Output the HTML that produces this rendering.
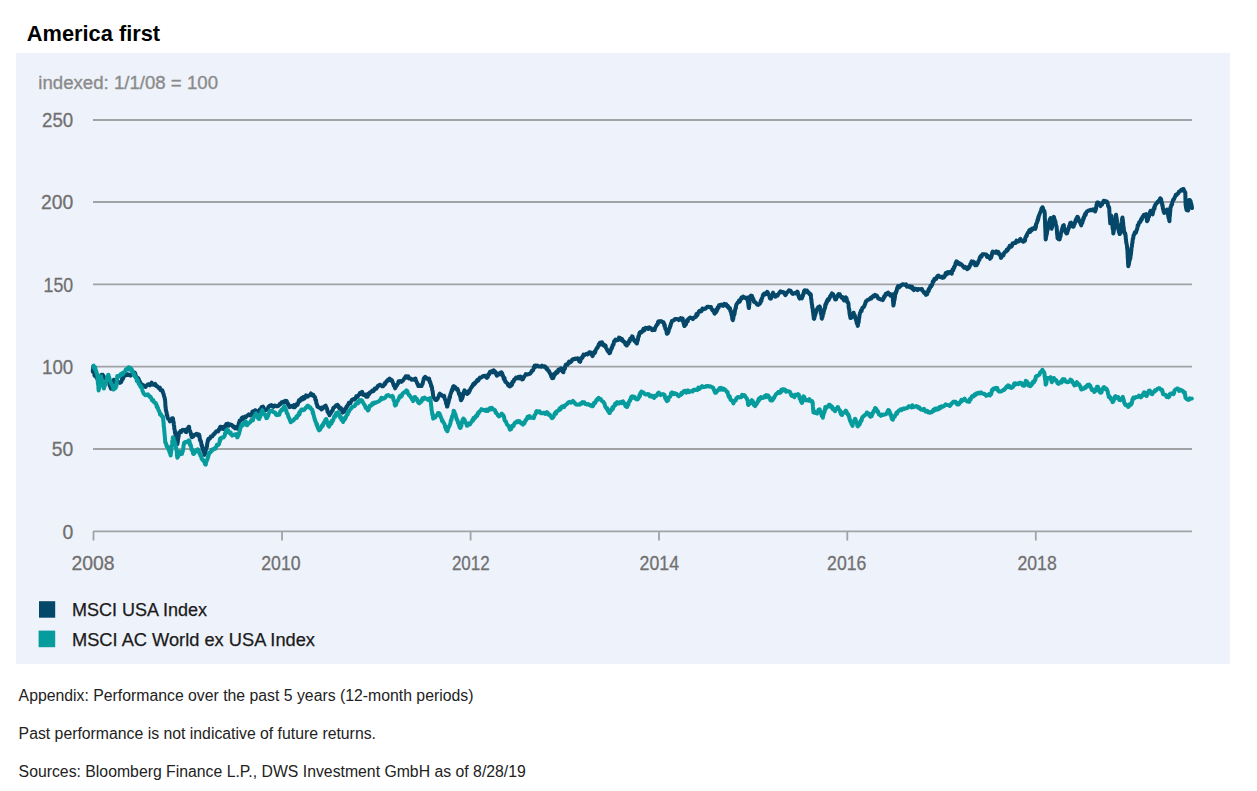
<!DOCTYPE html>
<html><head><meta charset="utf-8"><title>America first</title>
<style>
html,body{margin:0;padding:0;background:#fff;width:1257px;height:791px;overflow:hidden;}
body{position:relative;font-family:"Liberation Sans",sans-serif;}
.panel{position:absolute;left:16px;top:53px;width:1214px;height:611px;background:#EEF2FA;}
svg{position:absolute;left:0;top:0;}
.ax{font-family:"Liberation Sans",sans-serif;font-size:20.3px;fill:#707070;stroke:#707070;stroke-width:0.3px;}
.leg{font-family:"Liberation Sans",sans-serif;font-size:18px;fill:#1b1b1b;stroke:#1b1b1b;stroke-width:0.25px;}
.idx{font-family:"Liberation Sans",sans-serif;font-size:19.1px;fill:#8b8b8b;stroke:#8b8b8b;stroke-width:0.35px;}
.ttl{font-family:"Liberation Sans",sans-serif;font-size:22.6px;font-weight:bold;fill:#000;}
.t{position:absolute;white-space:nowrap;}
</style></head><body>

<div class="panel"></div>
<svg width="1257" height="791" viewBox="0 0 1257 791">
<line x1="93" y1="120.0" x2="1192" y2="120.0" stroke="#A0A2A6" stroke-width="1.8"/>
<line x1="93" y1="202.0" x2="1192" y2="202.0" stroke="#A0A2A6" stroke-width="1.8"/>
<line x1="93" y1="284.4" x2="1192" y2="284.4" stroke="#A0A2A6" stroke-width="1.8"/>
<line x1="93" y1="366.7" x2="1192" y2="366.7" stroke="#A0A2A6" stroke-width="1.8"/>
<line x1="93" y1="449.0" x2="1192" y2="449.0" stroke="#A0A2A6" stroke-width="1.8"/>
<line x1="93" y1="531.4" x2="1192" y2="531.4" stroke="#A0A2A6" stroke-width="1.8"/>
<line x1="93.5" y1="531.4" x2="93.5" y2="540.5" stroke="#A0A2A6" stroke-width="1.8"/>
<line x1="282.0" y1="531.4" x2="282.0" y2="540.5" stroke="#A0A2A6" stroke-width="1.8"/>
<line x1="470.6" y1="531.4" x2="470.6" y2="540.5" stroke="#A0A2A6" stroke-width="1.8"/>
<line x1="659.0" y1="531.4" x2="659.0" y2="540.5" stroke="#A0A2A6" stroke-width="1.8"/>
<line x1="847.3" y1="531.4" x2="847.3" y2="540.5" stroke="#A0A2A6" stroke-width="1.8"/>
<line x1="1035.8" y1="531.4" x2="1035.8" y2="540.5" stroke="#A0A2A6" stroke-width="1.8"/>
<text x="73.2" y="127.2" text-anchor="end" class="ax" textLength="31.2" lengthAdjust="spacingAndGlyphs">250</text>
<text x="73.2" y="209.2" text-anchor="end" class="ax" textLength="32.3" lengthAdjust="spacingAndGlyphs">200</text>
<text x="73.2" y="291.6" text-anchor="end" class="ax" textLength="29.6" lengthAdjust="spacingAndGlyphs">150</text>
<text x="73.2" y="373.9" text-anchor="end" class="ax" textLength="31.2" lengthAdjust="spacingAndGlyphs">100</text>
<text x="73.2" y="456.2" text-anchor="end" class="ax" textLength="21.5" lengthAdjust="spacingAndGlyphs">50</text>
<text x="73.2" y="538.6" text-anchor="end" class="ax" textLength="10.8" lengthAdjust="spacingAndGlyphs">0</text>
<text x="71.4" y="569.9" class="ax" textLength="43.2" lengthAdjust="spacingAndGlyphs">2008</text>
<text x="261.2" y="569.9" class="ax" textLength="39.4" lengthAdjust="spacingAndGlyphs">2010</text>
<text x="451.9" y="569.9" class="ax" textLength="37.8" lengthAdjust="spacingAndGlyphs">2012</text>
<text x="639.6" y="569.9" class="ax" textLength="39.4" lengthAdjust="spacingAndGlyphs">2014</text>
<text x="827.1" y="569.9" class="ax" textLength="39.2" lengthAdjust="spacingAndGlyphs">2016</text>
<text x="1017.5" y="569.9" class="ax" textLength="39.2" lengthAdjust="spacingAndGlyphs">2018</text>
<polyline points="92.8,371.6 92.9,369.6 93.0,370.4 93.1,369.2 93.2,366.8 93.3,366.4 93.4,367.3 93.6,368.1 93.7,369.6 93.8,370.9 93.9,370.0 94.1,370.8 94.2,373.8 94.3,373.7 94.5,375.5 94.6,375.7 95.4,375.2 96.2,377.1 97.0,378.0 97.5,379.6 98.0,379.3 98.5,382.2 99.0,382.0 99.3,382.1 99.7,379.0 100.0,378.0 100.3,378.5 100.6,378.6 100.9,376.2 101.3,374.9 101.6,374.7 102.2,375.2 102.8,374.9 103.5,376.1 104.1,377.3 104.7,378.2 105.5,378.6 106.3,378.4 107.2,378.9 108.0,380.0 108.3,380.2 108.6,381.7 108.9,382.2 109.2,382.4 109.6,385.5 109.9,385.7 110.2,386.8 110.5,386.6 110.8,388.3 111.1,388.7 111.4,387.5 111.7,384.7 112.0,384.4 112.3,384.6 112.6,383.7 112.9,383.4 113.2,381.2 113.5,381.4 113.8,379.7 114.9,380.6 115.9,380.1 117.0,381.0 118.0,381.6 119.0,382.6 119.9,382.9 120.9,382.3 121.3,381.5 121.7,380.8 122.2,378.5 122.6,378.2 123.0,378.8 123.4,377.2 124.1,376.3 124.8,375.1 125.6,375.4 126.3,375.2 127.0,374.0 127.9,374.9 128.8,374.5 129.6,375.1 130.5,375.7 131.1,375.0 131.7,375.0 132.3,373.7 132.9,372.6 133.5,372.2 134.1,373.0 134.6,372.5 135.2,373.4 135.8,375.9 136.4,377.4 136.9,377.2 137.5,377.7 138.0,378.2 138.5,378.5 139.0,380.2 139.5,381.0 140.0,382.0 140.6,384.0 141.3,384.2 141.9,384.3 142.5,385.9 143.2,385.0 143.8,386.4 144.7,386.1 145.5,387.0 146.4,385.7 147.2,385.0 148.1,384.2 149.0,384.6 149.8,385.4 150.7,383.9 151.6,382.6 152.5,384.6 153.4,384.7 154.3,384.9 155.2,383.9 155.8,385.3 156.5,386.2 157.1,386.1 157.7,387.0 158.4,387.4 159.0,388.3 159.8,387.6 160.6,390.2 161.3,389.9 162.1,390.2 162.4,390.4 162.8,392.1 163.1,393.0 163.4,393.6 163.7,394.5 164.0,396.0 164.4,397.2 164.7,397.8 164.8,399.0 164.9,399.5 165.0,399.3 165.1,400.8 165.2,401.5 165.3,403.5 165.4,405.1 165.4,405.9 165.5,406.8 165.6,407.8 165.7,407.2 165.8,409.6 165.9,410.1 166.0,409.5 166.1,411.5 166.3,411.3 166.6,412.3 166.8,415.2 167.1,414.9 167.3,415.6 167.6,417.6 168.2,418.9 168.8,419.1 169.3,419.3 169.9,421.4 170.7,419.7 171.4,419.9 172.2,418.2 172.9,418.3 173.0,418.6 173.2,420.6 173.3,420.9 173.4,421.4 173.5,422.7 173.7,422.4 173.8,424.2 173.9,425.2 174.0,425.5 174.2,426.2 174.3,429.1 174.4,429.0 174.6,429.9 174.8,430.0 174.9,431.9 175.1,433.4 175.3,432.2 175.5,433.1 175.6,434.3 175.8,436.7 176.0,436.1 176.2,438.4 176.3,439.2 176.5,439.8 176.7,439.8 176.9,442.7 177.0,443.1 177.2,443.3 177.4,444.1 177.5,442.4 177.7,442.6 177.8,441.0 177.9,440.5 178.1,438.9 178.2,438.7 178.3,436.3 178.5,436.0 178.6,436.8 178.7,435.6 178.9,433.1 179.0,432.7 179.7,433.0 180.5,431.0 181.2,432.0 182.0,430.9 182.7,429.7 183.5,430.1 184.2,430.2 185.0,430.1 185.8,432.0 186.3,432.1 186.8,429.0 187.3,430.2 187.8,429.7 188.3,427.8 188.8,426.7 189.1,426.7 189.3,429.4 189.6,430.6 189.8,430.8 190.1,431.1 190.3,431.7 190.6,432.5 190.8,433.0 191.1,435.1 191.3,435.4 191.6,435.6 191.8,437.3 192.6,435.7 193.3,436.5 194.1,435.0 194.8,434.9 195.6,434.3 196.6,433.8 197.7,435.3 198.7,434.3 198.9,436.2 199.2,434.8 199.4,436.2 199.7,437.4 199.9,440.0 200.2,439.6 200.5,441.2 200.7,441.0 201.0,441.5 201.3,443.6 201.5,444.9 201.8,446.1 202.1,445.4 202.3,447.7 202.6,448.1 202.8,448.4 203.1,450.6 203.4,449.6 203.6,451.7 203.9,451.0 204.2,452.1 204.4,454.9 204.7,454.7 204.9,453.1 205.1,453.6 205.3,452.3 205.5,452.1 205.8,449.9 206.0,449.0 206.2,448.0 206.4,448.6 206.6,447.0 206.8,447.0 207.0,446.0 207.2,443.2 207.4,443.3 207.7,441.3 207.9,440.3 208.1,439.5 208.3,440.6 208.5,438.8 209.3,438.9 210.0,438.4 210.8,436.5 211.6,436.6 212.3,436.4 213.1,435.0 213.8,434.0 214.6,433.9 215.3,432.4 216.1,431.4 216.8,431.2 217.6,431.2 218.1,431.5 218.6,429.9 219.1,430.1 219.7,428.1 220.2,426.9 220.7,426.7 221.4,428.0 222.2,428.7 222.9,427.2 223.7,429.0 224.2,428.7 224.7,426.4 225.2,425.7 225.7,426.9 226.2,424.0 226.7,424.4 227.8,423.7 228.9,425.7 230.0,424.4 230.8,424.8 231.5,424.7 232.2,425.4 233.0,426.9 234.0,426.6 234.9,428.3 235.9,427.1 236.9,428.5 237.3,428.7 237.6,426.4 238.0,427.1 238.3,426.1 238.7,423.6 239.0,422.6 239.4,422.3 239.7,420.4 240.1,420.6 240.9,420.4 241.7,418.1 242.5,417.4 243.3,419.3 244.1,417.4 245.0,416.5 246.0,416.9 246.9,416.1 247.8,415.3 248.8,414.3 249.7,415.0 250.4,415.5 251.1,415.0 251.8,414.4 252.4,411.6 253.1,411.3 253.8,411.7 254.5,412.0 255.2,410.2 256.3,410.8 257.3,411.8 258.4,411.8 259.1,411.4 259.7,409.6 260.4,409.5 261.1,408.1 261.7,407.1 262.4,407.0 263.0,406.6 263.7,407.7 264.3,410.2 265.0,409.4 265.6,410.2 266.3,409.9 267.0,409.2 267.7,409.3 268.3,407.2 269.0,406.3 269.7,405.7 270.4,405.5 271.4,405.1 272.4,406.6 273.4,406.9 274.5,405.4 275.5,405.6 276.5,406.3 277.5,406.3 278.3,405.9 279.1,405.3 279.9,403.8 280.7,403.9 281.6,402.3 282.6,402.4 283.5,401.6 284.4,402.4 285.4,400.8 286.3,401.5 286.8,401.2 287.4,403.4 287.9,403.3 288.4,405.4 288.9,405.4 289.5,407.2 290.0,407.0 291.0,405.9 292.0,406.6 292.9,407.2 293.9,405.1 294.9,407.2 295.9,405.8 296.4,404.2 296.9,405.0 297.5,404.8 298.0,403.7 298.5,401.6 299.0,400.3 299.6,400.6 300.1,400.9 300.6,399.1 301.5,398.2 302.5,399.4 303.4,397.0 304.4,398.6 305.3,397.2 306.1,395.4 306.9,395.6 307.7,396.6 308.6,395.8 309.4,395.5 310.2,394.8 311.0,393.4 311.8,394.8 312.5,395.4 313.3,394.8 314.0,396.3 314.8,397.2 315.1,397.2 315.3,399.5 315.6,400.2 315.9,400.0 316.1,400.4 316.4,403.6 316.6,404.0 316.9,404.2 317.2,405.1 317.4,406.7 317.7,406.7 318.4,407.1 319.2,407.5 319.9,408.0 320.7,408.3 321.4,409.5 322.2,407.5 322.9,408.4 323.7,407.1 324.4,406.7 325.2,405.8 325.6,405.5 326.0,407.1 326.4,407.4 326.8,408.2 327.2,409.4 327.5,411.8 327.9,411.5 328.3,412.4 328.7,413.8 329.1,413.7 329.5,415.2 330.0,413.1 330.5,413.6 330.9,412.7 331.4,412.3 331.9,410.9 332.4,410.7 332.8,410.0 333.3,407.9 333.8,407.7 334.6,407.1 335.3,406.5 336.1,405.2 336.8,405.2 337.6,404.8 338.2,405.7 338.7,407.4 339.3,408.2 339.8,407.3 340.4,409.0 341.0,408.2 341.5,409.0 342.1,410.9 342.6,412.6 343.2,412.4 343.7,410.7 344.1,411.5 344.6,411.0 345.1,408.7 345.6,408.9 346.0,408.6 346.5,406.5 347.0,406.6 347.5,405.9 347.9,404.7 348.4,404.6 348.9,402.9 349.6,403.4 350.4,403.1 351.1,401.5 351.9,400.0 352.6,399.6 353.4,399.0 354.1,399.4 354.9,399.4 355.6,398.2 356.3,396.3 357.0,397.2 357.7,396.6 358.5,395.0 359.2,394.7 359.9,393.1 360.6,393.8 361.3,392.5 362.1,391.8 362.9,394.8 363.7,394.9 364.6,395.0 365.4,394.6 366.2,396.8 367.0,396.3 367.6,396.7 368.1,393.8 368.7,394.7 369.2,394.1 369.8,392.5 370.6,392.3 371.4,391.8 372.2,390.6 373.0,391.2 373.8,390.7 374.6,388.6 375.4,388.3 376.3,388.6 377.2,387.1 378.0,385.8 378.9,385.7 379.8,384.7 380.7,385.1 381.8,386.2 382.9,386.3 384.0,385.1 384.6,383.4 385.2,383.9 385.8,382.6 386.4,381.2 387.0,380.9 387.6,380.0 388.2,380.6 388.8,379.2 389.6,378.5 390.3,379.5 391.1,380.7 391.8,380.1 392.6,381.9 393.0,383.1 393.3,384.0 393.7,385.5 394.1,384.8 394.5,385.9 394.8,387.5 395.2,388.3 395.6,386.8 396.0,386.8 396.4,385.0 396.9,385.3 397.3,384.7 397.7,383.9 398.1,383.4 398.5,381.3 399.4,381.3 400.4,381.0 401.3,381.8 402.2,380.8 402.9,380.8 403.6,379.6 404.4,378.3 405.1,377.4 405.8,376.2 406.5,376.5 407.4,377.7 408.2,376.3 409.1,378.4 409.9,378.3 410.8,378.6 411.9,379.8 413.0,379.3 414.0,379.8 415.1,378.6 415.5,378.5 415.8,380.3 416.2,381.3 416.5,381.4 416.9,382.8 417.2,383.2 417.6,384.5 417.9,384.0 418.3,386.1 419.4,386.0 420.5,386.0 421.6,386.1 421.9,384.7 422.2,384.1 422.5,384.2 422.8,383.0 423.0,381.6 423.3,381.2 423.6,379.6 423.9,378.2 424.2,378.1 425.2,376.9 426.2,377.7 427.1,378.7 428.1,379.5 429.1,378.6 429.4,380.3 429.6,380.3 429.9,382.4 430.2,381.9 430.5,383.8 430.7,383.5 431.0,385.3 431.3,386.7 431.5,385.8 431.8,387.2 432.0,387.3 432.1,389.5 432.3,390.2 432.4,390.7 432.6,390.8 432.8,392.7 432.9,393.8 433.1,394.7 433.2,396.9 433.4,396.9 434.0,397.8 434.7,398.8 435.3,399.9 436.0,400.1 436.6,400.1 437.1,399.2 437.5,398.9 438.0,397.7 438.4,396.8 438.9,395.9 439.3,394.4 439.8,393.7 440.7,394.5 441.5,394.9 442.4,396.1 443.2,396.1 444.1,395.8 444.4,397.6 444.6,398.3 444.9,399.3 445.2,399.7 445.4,399.9 445.7,400.6 446.0,402.6 446.2,404.0 446.5,404.0 446.8,403.9 447.0,406.6 447.3,406.6 447.5,405.6 447.8,404.7 448.0,402.7 448.2,402.9 448.5,402.6 448.7,400.9 449.0,399.8 449.2,399.6 449.4,397.1 449.7,397.4 449.9,397.6 450.1,396.0 450.4,394.4 450.6,393.7 451.0,393.3 451.3,392.3 451.7,390.4 452.0,389.6 452.4,390.5 452.7,388.0 453.1,386.7 453.4,387.8 453.8,386.1 454.5,386.9 455.2,387.2 456.0,388.3 456.7,389.6 457.4,388.8 458.1,390.4 458.4,391.7 458.7,392.7 459.0,393.9 459.3,393.3 459.6,395.1 459.8,395.0 460.1,396.7 460.4,396.6 460.7,399.1 461.0,400.2 461.3,400.1 461.6,398.8 461.9,397.6 462.2,398.7 462.5,397.1 462.8,396.6 463.0,393.6 463.3,395.0 463.6,393.4 463.9,391.7 464.2,391.1 464.5,390.4 465.2,392.0 465.9,392.9 466.6,392.2 467.3,393.9 467.8,393.4 468.3,391.4 468.8,392.7 469.2,390.5 469.7,390.9 470.2,389.6 470.7,388.2 471.3,387.7 472.0,386.1 472.6,386.0 473.2,384.2 473.9,383.5 474.5,384.2 475.1,382.5 475.8,382.8 476.4,381.4 477.1,380.2 477.8,380.8 478.5,380.3 479.2,378.6 480.0,377.6 480.7,377.8 481.4,377.4 482.1,376.9 483.1,375.9 484.0,376.1 485.0,375.7 485.9,377.2 486.9,377.9 487.8,376.9 488.2,375.3 488.5,374.0 488.9,374.8 489.3,374.3 489.6,373.8 490.0,371.7 490.9,371.9 491.8,371.1 492.8,372.3 493.7,370.3 494.6,371.2 495.1,372.6 495.5,371.9 496.0,373.6 496.4,374.8 496.9,375.7 497.6,374.8 498.4,373.7 499.1,373.3 499.9,374.3 500.6,372.8 501.4,372.3 501.8,373.4 502.2,373.3 502.5,375.4 502.9,375.3 503.3,376.8 503.7,378.5 504.1,379.5 504.5,377.9 504.9,380.7 505.2,381.7 505.6,381.2 506.0,382.5 506.8,382.8 507.5,383.9 508.2,385.3 509.0,384.6 509.8,386.4 510.5,386.0 511.0,385.9 511.5,383.6 512.0,384.8 512.5,381.7 513.1,381.2 513.6,381.8 514.1,379.5 514.6,379.6 515.1,379.1 516.0,377.6 516.8,377.9 517.6,378.3 518.5,376.9 519.4,378.4 520.3,376.6 521.2,377.1 522.1,379.5 523.0,379.1 523.6,377.2 524.1,377.0 524.7,375.9 525.3,375.0 525.8,374.1 526.4,374.6 527.3,374.5 528.2,374.3 529.2,373.7 530.1,373.7 531.0,372.3 531.5,372.0 532.0,370.5 532.5,370.4 533.0,370.5 533.5,368.9 534.0,367.1 534.5,365.9 535.0,367.4 535.5,365.5 536.4,366.0 537.3,365.5 538.3,366.4 539.2,366.5 540.1,366.6 541.0,366.8 542.0,365.7 543.0,366.5 543.9,366.8 544.8,366.3 545.8,367.2 546.5,369.0 547.2,368.6 547.8,370.0 548.5,371.0 549.2,371.2 549.6,372.7 550.1,373.5 550.5,374.4 550.9,374.0 551.3,376.7 551.8,375.4 552.2,378.2 552.6,378.0 553.1,378.1 553.6,377.3 554.1,374.4 554.5,373.7 555.0,374.7 555.5,373.0 556.0,372.3 556.8,371.5 557.6,372.6 558.4,369.6 559.3,370.4 560.1,369.7 560.9,368.4 561.7,368.9 562.1,369.7 562.6,371.6 563.0,372.1 563.4,372.2 563.8,369.2 564.2,369.6 564.5,367.6 564.9,368.6 565.3,365.9 565.7,364.9 566.1,365.3 566.9,364.3 567.6,364.6 568.4,362.8 569.1,361.6 569.9,362.7 570.6,362.0 571.4,361.5 572.1,359.9 573.1,359.1 574.1,359.2 575.2,358.5 576.2,359.0 577.2,358.2 578.2,358.4 578.7,359.0 579.2,361.2 579.7,361.5 580.2,361.8 580.7,360.0 581.1,357.9 581.6,358.4 582.1,357.1 582.5,357.6 583.0,356.0 583.5,354.6 584.5,355.2 585.4,354.5 586.4,353.7 587.4,354.4 588.4,353.9 589.3,352.2 590.3,352.4 590.9,352.4 591.5,353.9 592.0,355.2 592.6,356.1 593.0,354.3 593.5,354.1 593.9,353.9 594.4,351.7 594.8,352.9 595.3,351.7 595.7,350.0 596.2,349.2 596.6,348.5 597.1,347.6 597.5,347.9 598.0,346.5 598.4,345.8 598.9,344.0 599.3,345.2 599.8,342.8 600.2,342.5 601.1,342.6 602.0,342.4 602.9,345.2 603.7,344.4 604.6,346.1 605.5,345.5 605.9,347.5 606.3,348.4 606.8,348.9 607.2,350.0 607.6,350.8 608.0,351.4 608.5,350.5 608.9,352.3 609.3,353.1 609.7,352.4 610.1,352.7 610.4,351.2 610.8,350.2 611.2,349.4 611.6,347.6 612.0,348.2 612.3,346.6 612.7,345.1 613.1,344.4 613.5,344.8 613.8,342.8 614.2,341.0 614.6,341.0 615.5,339.6 616.4,340.5 617.2,339.6 618.1,340.0 619.0,337.6 619.9,337.9 620.5,338.4 621.2,339.9 621.8,338.8 622.4,339.6 623.0,341.5 623.7,341.4 624.3,341.7 624.9,342.8 625.5,344.5 626.2,344.9 626.8,345.5 627.3,343.6 627.8,342.7 628.2,343.9 628.7,342.6 629.2,340.5 629.7,341.5 630.2,338.5 630.7,338.5 631.1,339.0 631.6,337.8 632.1,336.4 632.6,336.6 633.1,338.9 633.6,338.9 634.1,340.4 634.6,341.2 635.1,340.7 635.6,342.1 636.1,342.6 636.6,343.2 636.9,343.5 637.1,342.2 637.4,341.1 637.6,340.5 637.9,340.1 638.2,337.3 638.4,336.2 638.7,336.8 638.9,336.0 639.2,334.4 639.4,333.4 639.7,332.6 640.5,331.8 641.2,332.6 642.0,331.9 642.7,330.8 643.5,328.9 644.2,330.5 645.0,329.0 645.7,327.8 646.5,328.1 647.5,327.8 648.4,329.0 649.4,327.4 650.3,327.9 651.2,328.5 652.2,330.2 653.1,330.1 654.1,329.6 654.6,330.0 655.0,328.0 655.5,327.3 655.9,326.4 656.4,325.5 656.8,324.7 657.2,324.5 657.7,324.1 658.1,321.8 658.6,321.2 659.6,321.7 660.6,321.1 661.5,321.3 662.5,322.0 663.5,322.2 663.8,323.3 664.1,324.1 664.4,326.1 664.7,324.8 665.0,326.9 665.3,328.7 665.5,329.0 665.8,329.4 666.1,329.8 666.4,330.7 666.7,333.0 667.0,333.8 667.3,333.6 667.6,333.2 668.0,332.9 668.3,332.0 668.7,331.0 669.0,328.9 669.4,328.2 669.7,328.2 670.0,326.2 670.4,326.3 670.7,324.7 671.1,323.4 671.4,322.9 671.8,321.1 672.1,321.2 673.0,320.5 674.0,320.3 675.0,319.0 675.9,319.1 676.8,319.0 677.8,319.3 678.7,320.1 679.7,319.2 680.6,318.2 681.6,319.9 682.5,318.4 682.7,318.7 683.0,320.3 683.2,321.9 683.5,322.7 683.7,323.0 683.9,324.8 684.2,325.0 684.4,326.0 684.9,325.7 685.4,324.3 685.8,324.7 686.3,323.2 686.8,320.8 687.2,320.0 687.7,321.4 688.2,319.3 689.1,318.3 690.1,317.5 691.0,317.8 692.0,318.2 692.9,319.1 693.9,317.4 694.8,317.4 695.3,317.2 695.9,316.8 696.4,314.1 696.9,314.8 697.5,315.0 698.0,313.1 698.5,312.4 699.1,311.1 699.6,310.8 700.5,311.6 701.5,311.2 702.4,308.6 703.4,309.3 704.3,308.6 705.3,308.8 706.2,308.0 707.2,306.8 708.1,307.0 709.1,306.8 710.0,307.1 711.0,307.0 711.5,308.6 712.0,309.6 712.4,310.2 712.9,310.8 713.4,310.1 713.8,311.7 714.3,313.2 714.8,313.6 715.3,312.2 715.7,311.9 716.2,312.1 716.7,309.2 717.1,310.3 717.6,307.5 718.1,307.4 718.6,307.9 719.0,305.2 719.5,305.1 720.5,305.0 721.4,304.6 722.4,305.7 723.3,305.9 724.3,303.9 725.2,304.3 726.2,304.2 726.7,306.0 727.2,305.8 727.8,305.7 728.3,307.8 728.8,307.4 729.3,308.6 729.9,308.1 730.4,311.3 730.9,310.8 731.1,312.2 731.3,313.8 731.5,314.9 731.7,314.0 731.8,315.7 732.0,316.3 732.2,318.1 732.4,319.3 732.6,318.6 732.8,320.3 733.0,318.8 733.2,319.0 733.4,317.4 733.6,315.8 733.9,315.0 734.1,315.1 734.3,314.3 734.5,314.3 734.7,312.3 734.9,311.6 735.1,309.5 735.3,309.3 735.5,308.1 735.8,308.3 736.0,306.3 736.2,305.2 736.4,304.8 736.6,304.2 737.2,303.4 737.8,302.4 738.4,302.4 739.0,300.6 739.6,301.7 740.2,300.6 740.8,299.5 741.4,297.5 742.0,297.5 742.6,297.8 743.2,296.6 744.2,297.2 745.1,297.9 746.0,298.3 747.0,297.5 747.2,298.0 747.3,299.4 747.5,299.9 747.7,300.4 747.9,301.3 748.0,302.6 748.2,303.1 748.4,305.2 748.6,306.6 748.7,307.2 748.9,308.0 749.0,307.5 749.1,305.4 749.2,304.4 749.3,304.4 749.4,304.3 749.5,302.1 749.5,300.1 749.6,299.2 749.7,299.0 749.8,298.9 749.9,296.6 750.0,296.7 751.0,295.6 752.0,295.9 752.3,297.2 752.6,298.9 752.9,298.1 753.1,299.6 753.4,300.2 753.7,299.8 754.0,301.9 754.8,302.2 755.6,302.4 756.4,303.4 757.2,304.7 758.2,304.9 759.3,304.1 760.3,303.1 760.7,301.0 761.0,300.2 761.4,301.0 761.7,298.5 762.1,298.2 762.4,297.2 762.8,295.7 763.1,294.8 763.5,295.1 764.2,293.5 764.9,293.6 765.7,294.3 766.4,292.9 767.1,291.9 767.6,292.1 768.0,294.1 768.5,293.9 768.9,295.3 769.4,295.7 769.8,298.2 770.2,297.5 770.7,298.7 771.0,298.6 771.4,297.4 771.7,297.0 772.1,295.5 772.4,295.4 772.8,293.3 773.1,292.7 773.6,294.0 774.1,294.6 774.5,295.2 775.0,296.1 775.5,296.7 776.1,296.1 776.8,295.1 777.5,295.7 778.1,294.4 778.8,293.5 779.4,292.7 780.5,291.3 781.5,292.2 782.6,291.9 783.3,291.9 784.0,292.8 784.7,294.1 785.4,295.1 786.0,294.4 786.6,292.9 787.2,292.1 787.8,292.0 788.4,291.0 789.0,290.3 789.8,290.8 790.6,290.7 791.4,292.1 792.2,293.6 793.0,293.9 793.9,293.5 794.7,293.1 795.6,293.4 796.4,292.6 797.3,291.5 797.6,292.9 797.8,292.1 798.1,293.8 798.4,295.7 798.6,295.3 798.9,297.1 799.8,298.6 800.7,297.0 801.6,298.3 801.9,298.4 802.3,295.8 802.6,296.5 803.0,295.6 803.3,293.4 803.7,293.9 804.0,291.1 804.4,292.0 804.7,290.2 805.5,290.4 806.2,291.1 807.0,290.7 807.7,292.5 808.5,292.2 809.2,293.7 810.0,294.6 810.7,294.3 810.8,295.5 810.9,294.8 811.0,298.2 811.2,299.0 811.3,299.2 811.4,299.4 811.5,300.8 811.6,302.5 811.7,302.3 811.8,304.0 812.0,304.5 812.1,304.9 812.2,307.1 812.3,306.7 812.4,308.1 812.5,307.5 812.7,309.5 812.8,309.3 812.9,311.9 813.0,311.0 813.1,312.0 813.2,313.1 813.3,314.1 813.5,315.9 813.6,316.4 813.7,317.1 813.8,318.6 814.1,318.9 814.4,317.8 814.7,316.3 815.0,315.7 815.3,314.9 815.6,312.5 815.9,313.0 816.2,310.6 816.5,310.6 816.8,309.5 817.5,308.4 818.3,307.1 819.0,307.9 819.8,306.4 820.0,308.4 820.1,307.8 820.3,310.2 820.4,309.8 820.6,311.5 820.8,313.3 820.9,313.7 821.1,312.8 821.3,314.7 821.4,315.5 821.6,316.2 821.7,318.5 821.9,318.6 822.1,317.6 822.4,317.3 822.6,316.3 822.8,315.1 823.1,313.0 823.3,313.7 823.5,313.4 823.8,310.6 824.0,310.9 824.3,309.6 824.5,308.4 824.7,308.4 825.0,308.2 825.2,304.8 825.4,306.2 825.7,304.0 825.9,303.4 826.4,303.5 826.8,301.0 827.3,301.6 827.8,299.3 828.2,299.1 828.7,300.0 829.2,298.4 829.7,297.9 830.1,296.3 830.6,295.6 831.1,294.8 831.5,294.8 832.0,293.3 832.5,294.6 833.0,294.0 833.5,295.4 834.0,296.5 834.5,297.3 835.0,299.0 835.5,299.5 836.0,299.4 836.5,297.6 837.0,297.4 837.5,295.8 838.1,294.8 838.6,294.0 839.1,294.3 839.8,294.2 840.4,296.3 841.1,296.8 841.8,297.8 842.4,297.1 843.1,297.5 843.8,300.3 844.4,300.6 845.1,300.4 845.4,300.6 845.8,297.3 846.1,297.6 846.5,298.2 846.8,299.7 847.2,300.9 847.5,302.3 847.9,302.2 848.2,303.0 848.3,303.7 848.5,303.6 848.6,306.6 848.8,308.0 848.9,308.8 849.0,309.1 849.2,309.2 849.3,309.9 849.4,312.2 849.6,313.6 849.7,314.6 849.9,313.5 850.0,315.5 850.1,316.2 850.3,317.0 850.4,318.1 850.9,318.0 851.5,317.4 852.0,316.0 852.5,315.0 853.1,314.1 853.6,312.7 853.9,314.0 854.2,314.5 854.5,314.6 854.7,316.9 855.0,316.0 855.3,318.2 855.6,318.4 855.9,319.7 856.2,320.8 856.5,321.2 856.8,323.4 857.0,322.3 857.3,322.6 857.6,325.9 857.9,325.6 858.0,324.2 858.2,323.2 858.4,322.7 858.5,322.3 858.6,322.4 858.8,320.8 859.0,318.9 859.1,318.5 859.2,317.4 859.4,316.7 859.5,315.6 859.7,314.0 859.9,313.7 860.0,313.1 860.5,311.9 861.0,310.5 861.5,311.2 862.0,309.1 862.5,307.7 863.0,307.7 863.4,307.1 863.9,307.0 864.3,306.0 864.7,304.8 865.1,304.3 865.5,302.5 866.0,301.2 866.4,301.3 867.2,300.2 868.1,299.9 868.9,299.2 869.7,299.2 870.6,297.9 871.4,298.3 872.2,296.7 872.9,296.3 873.7,295.5 874.4,296.4 875.2,294.9 876.0,295.7 876.7,295.5 877.5,296.8 878.2,298.6 879.0,298.5 879.7,299.0 880.7,299.5 881.7,299.5 882.7,300.2 883.2,298.5 883.6,298.7 884.1,296.3 884.5,297.3 885.0,295.6 885.8,293.7 886.5,294.7 887.3,293.0 888.1,292.6 888.6,293.8 889.2,294.3 889.8,293.9 890.3,295.6 891.5,295.2 892.6,294.5 892.7,294.3 892.7,295.7 892.8,296.9 892.9,297.6 892.9,299.5 893.0,301.3 893.1,300.5 893.1,302.7 893.2,302.0 893.3,304.2 893.3,304.2 893.4,305.5 893.6,304.7 893.7,302.6 893.9,303.6 894.0,301.1 894.2,300.8 894.3,299.5 894.5,299.9 894.7,298.4 894.8,297.5 895.0,297.0 895.1,294.8 895.3,294.5 895.6,292.4 895.8,293.5 896.1,291.2 896.4,291.6 896.7,291.0 896.9,289.3 897.2,288.0 898.1,286.2 899.1,287.5 900.0,285.8 901.0,285.9 902.0,284.6 903.1,284.2 904.1,284.7 905.1,285.0 906.0,284.3 907.0,286.6 907.9,286.3 908.9,286.9 909.8,286.0 910.8,287.7 911.7,286.9 912.2,286.7 912.8,289.1 913.3,288.7 913.8,290.1 914.7,288.7 915.7,288.8 916.6,288.9 917.5,290.2 918.5,289.1 919.4,289.2 920.4,289.4 921.3,289.0 922.0,289.1 922.6,290.7 923.3,291.5 924.0,292.8 924.7,292.4 925.4,294.0 926.0,294.9 926.7,294.4 927.1,294.3 927.5,292.6 927.9,291.4 928.3,290.1 928.7,291.2 929.1,288.6 929.5,288.9 930.0,287.8 930.4,286.0 930.8,285.6 931.2,286.4 931.6,284.8 932.0,285.0 932.4,284.2 932.8,281.3 933.2,281.5 933.8,281.2 934.4,278.8 935.0,279.0 935.7,278.3 936.3,278.8 936.9,277.1 937.5,276.1 938.5,275.6 939.5,276.8 940.5,277.2 941.5,276.7 942.5,277.8 943.1,276.7 943.8,277.4 944.4,276.9 945.0,275.7 945.7,273.1 946.3,274.6 947.0,272.7 947.6,272.1 948.5,273.3 949.5,271.9 950.5,272.2 951.4,273.4 951.8,273.6 952.1,271.1 952.5,269.6 952.8,270.0 953.2,270.4 953.5,269.1 953.9,267.1 954.3,267.8 954.6,266.5 955.0,265.7 955.3,264.4 955.7,262.8 956.0,263.3 956.4,261.4 957.2,261.8 958.1,263.6 959.0,263.1 959.8,264.5 960.6,263.9 961.5,264.5 962.1,265.1 962.8,266.3 963.4,266.4 964.0,267.7 965.1,266.9 966.2,268.2 967.3,269.1 968.4,268.3 968.8,266.9 969.2,267.5 969.6,266.5 970.0,265.6 970.4,263.8 970.8,264.4 971.2,263.0 971.6,261.4 972.3,262.1 973.1,261.5 973.8,263.2 974.5,262.3 975.2,265.2 976.0,264.2 976.7,265.2 977.1,264.0 977.5,263.6 977.8,262.9 978.2,261.9 978.6,260.7 979.0,260.2 979.4,259.9 979.7,257.9 980.1,257.2 980.5,256.3 981.5,256.7 982.5,254.2 983.5,254.3 984.5,254.3 985.5,254.4 986.2,254.4 987.0,256.9 987.7,255.7 988.4,256.3 989.2,257.6 989.9,258.8 990.3,258.0 990.7,257.9 991.1,257.5 991.5,256.3 991.9,254.8 992.3,252.4 992.7,251.6 993.1,251.9 994.1,252.2 995.1,252.7 996.2,251.3 997.2,253.1 998.2,251.9 998.6,252.8 999.1,253.7 999.5,254.7 1000.0,254.1 1000.4,255.1 1000.9,257.9 1001.3,257.6 1001.8,256.3 1002.4,255.1 1002.9,254.8 1003.5,255.3 1004.0,253.3 1004.5,252.5 1005.1,251.9 1005.6,251.7 1006.1,251.6 1006.7,249.8 1007.2,250.5 1007.8,250.1 1008.3,248.1 1009.0,248.3 1009.7,245.7 1010.4,245.7 1011.2,246.7 1011.9,245.9 1012.6,243.4 1013.3,243.7 1014.1,243.1 1014.9,242.4 1015.7,242.9 1016.5,240.6 1017.2,240.8 1018.0,241.5 1018.8,241.4 1019.6,239.9 1020.5,238.9 1021.4,240.6 1022.3,241.0 1023.2,241.8 1024.1,241.1 1024.5,240.0 1025.0,240.6 1025.4,237.7 1025.9,236.6 1026.3,235.7 1026.7,236.0 1027.2,234.0 1027.6,233.5 1028.1,232.4 1028.5,232.3 1029.3,230.4 1030.0,232.0 1030.8,229.6 1031.5,230.5 1032.3,228.5 1033.2,229.1 1034.1,227.9 1035.0,228.7 1035.3,228.9 1035.6,225.6 1035.9,227.2 1036.2,223.8 1036.5,223.4 1036.8,223.3 1037.1,222.2 1037.4,220.1 1037.6,221.2 1037.9,218.5 1038.2,219.6 1038.4,216.7 1038.7,217.1 1039.0,215.4 1039.3,214.8 1039.5,214.4 1039.8,213.6 1040.2,212.4 1040.6,211.5 1041.0,211.3 1041.3,209.2 1041.7,208.2 1042.1,208.6 1042.5,207.2 1042.9,207.7 1043.2,210.3 1043.6,210.0 1044.0,211.1 1044.3,210.9 1044.7,213.1 1044.7,212.8 1044.8,213.9 1044.8,216.1 1044.8,217.2 1044.9,218.8 1044.9,218.4 1044.9,220.0 1045.0,219.9 1045.0,220.2 1045.0,222.0 1045.1,223.6 1045.1,224.8 1045.1,226.1 1045.2,226.7 1045.2,226.9 1045.3,227.7 1045.3,228.5 1045.3,229.4 1045.4,230.8 1045.4,231.4 1045.4,233.1 1045.5,232.9 1045.5,233.9 1045.5,235.7 1045.6,236.2 1045.6,236.7 1045.6,237.8 1045.7,239.3 1045.7,239.4 1045.9,238.7 1046.0,236.9 1046.2,236.1 1046.4,235.9 1046.5,233.5 1046.7,233.7 1046.9,233.9 1047.1,231.2 1047.2,230.8 1047.4,230.5 1047.6,230.2 1047.7,228.7 1047.9,227.5 1048.1,226.0 1048.2,225.2 1048.4,224.4 1048.7,223.8 1049.0,222.2 1049.3,222.4 1049.7,219.4 1050.0,220.4 1050.3,219.5 1050.6,217.9 1050.7,218.3 1050.8,218.4 1050.8,220.2 1050.9,221.7 1051.0,223.1 1051.1,224.3 1051.2,223.4 1051.3,224.0 1051.3,225.0 1051.4,228.2 1051.5,228.2 1051.6,228.7 1051.8,226.8 1051.9,227.4 1052.1,227.2 1052.3,225.3 1052.4,223.5 1052.6,224.5 1052.8,222.9 1053.0,220.6 1053.1,221.2 1053.3,219.6 1053.5,218.9 1053.6,217.5 1053.8,216.9 1054.0,217.2 1054.3,218.4 1054.5,219.6 1054.8,220.3 1055.0,222.2 1055.3,221.0 1055.5,222.2 1055.8,225.0 1056.0,225.0 1056.3,225.9 1056.5,226.5 1056.6,227.7 1056.7,227.6 1056.8,228.9 1056.8,229.4 1056.9,230.1 1057.0,233.2 1057.1,233.5 1057.2,234.7 1057.3,233.4 1057.3,236.1 1057.4,236.0 1057.5,237.4 1057.6,238.3 1058.7,239.3 1059.7,239.4 1059.9,237.2 1060.1,237.2 1060.3,236.7 1060.5,236.6 1060.7,234.7 1060.9,233.3 1061.1,233.1 1061.3,231.9 1061.6,231.2 1061.9,229.5 1062.2,229.2 1062.6,227.6 1062.9,226.0 1063.2,225.8 1063.5,225.4 1063.8,225.2 1064.0,227.2 1064.3,228.1 1064.6,230.0 1064.8,230.5 1065.1,230.8 1065.8,232.2 1066.5,233.5 1067.2,233.0 1067.5,231.5 1067.8,230.9 1068.1,229.7 1068.4,228.4 1068.7,228.6 1068.9,227.7 1069.2,225.9 1069.5,227.0 1069.8,226.3 1070.1,223.1 1070.4,223.3 1071.1,222.6 1071.7,223.4 1072.4,225.8 1073.0,226.8 1073.7,226.5 1074.0,224.5 1074.4,223.5 1074.7,224.0 1075.0,222.6 1075.4,220.9 1075.7,220.0 1076.1,219.6 1076.4,218.7 1076.7,218.1 1077.1,217.9 1077.4,216.9 1077.8,217.1 1078.2,217.9 1078.5,218.7 1078.9,221.3 1079.3,220.5 1079.7,222.1 1080.1,222.7 1080.4,223.3 1080.8,224.3 1081.2,225.4 1081.5,223.3 1081.8,222.8 1082.1,223.1 1082.4,222.6 1082.7,220.3 1082.9,219.3 1083.2,220.3 1083.5,217.4 1083.8,218.3 1084.1,217.7 1084.4,215.8 1085.0,214.1 1085.6,215.1 1086.2,212.6 1086.9,211.5 1087.5,211.4 1088.1,210.8 1088.7,210.4 1089.8,210.4 1090.8,209.7 1091.9,210.3 1093.0,209.3 1093.7,210.5 1094.5,209.8 1095.2,211.5 1095.4,209.8 1095.6,210.3 1095.8,207.8 1096.0,209.0 1096.2,207.8 1096.5,205.3 1096.7,204.6 1096.9,203.6 1097.1,203.1 1097.3,202.4 1097.9,202.5 1098.6,202.7 1099.2,204.0 1099.9,204.6 1100.5,206.1 1101.0,204.8 1101.6,204.2 1102.1,204.4 1102.6,202.9 1103.2,201.9 1103.7,200.7 1104.8,202.0 1105.9,201.1 1107.0,201.8 1107.3,202.5 1107.7,202.9 1108.0,205.4 1108.4,206.4 1108.8,207.4 1109.1,207.2 1109.2,208.4 1109.2,208.1 1109.3,208.9 1109.4,211.8 1109.4,212.9 1109.5,213.0 1109.6,214.9 1109.6,215.9 1109.7,216.4 1109.7,216.3 1109.8,217.5 1109.9,218.2 1109.9,219.2 1110.0,220.4 1110.1,220.2 1110.1,221.4 1110.2,223.3 1110.3,221.5 1110.5,221.6 1110.6,221.5 1110.8,220.1 1110.9,217.7 1111.0,217.6 1111.2,217.1 1111.3,215.8 1111.4,215.8 1111.5,216.5 1111.6,218.8 1111.7,218.7 1111.9,220.7 1112.0,220.4 1112.1,223.1 1112.2,222.5 1112.3,223.8 1112.4,225.0 1112.5,226.8 1112.6,227.7 1112.7,228.5 1112.8,229.0 1113.0,228.3 1113.1,229.5 1113.2,231.3 1113.3,233.4 1113.4,233.0 1113.5,232.7 1113.7,230.4 1113.8,229.9 1113.9,230.5 1114.1,228.4 1114.2,228.5 1114.3,227.5 1114.5,226.4 1114.6,225.1 1114.8,224.3 1114.9,222.5 1115.0,221.0 1115.2,222.3 1115.3,219.0 1115.4,218.7 1115.6,218.7 1115.7,218.7 1115.8,215.8 1116.0,215.0 1116.1,214.7 1116.2,216.5 1116.3,216.1 1116.4,217.2 1116.6,218.0 1116.7,218.1 1116.8,221.4 1116.9,221.7 1117.0,220.8 1117.1,221.9 1117.2,223.0 1117.4,224.5 1117.5,226.8 1117.6,225.7 1117.7,227.6 1118.0,227.8 1118.3,228.9 1118.6,230.4 1119.0,232.3 1119.3,232.3 1119.6,234.1 1119.9,234.0 1120.0,233.2 1120.2,232.0 1120.3,232.2 1120.5,230.5 1120.6,229.3 1120.8,228.5 1120.9,227.2 1121.1,226.4 1121.2,224.6 1121.3,224.0 1121.5,224.5 1121.6,222.0 1121.8,221.3 1121.9,220.2 1122.1,219.8 1122.2,218.1 1122.4,218.0 1122.5,217.4 1122.6,218.6 1122.7,219.7 1122.8,221.1 1122.9,220.0 1123.0,222.4 1123.1,222.1 1123.2,223.4 1123.3,224.9 1123.4,226.5 1123.5,227.0 1123.6,228.8 1123.7,227.2 1123.8,228.9 1123.9,230.2 1124.0,230.0 1124.1,230.9 1124.2,233.0 1125.1,233.0 1125.2,233.5 1125.3,234.9 1125.5,234.7 1125.6,235.5 1125.7,237.0 1125.8,239.0 1126.0,239.4 1126.1,241.4 1126.2,241.3 1126.3,243.0 1126.4,243.0 1126.6,243.7 1126.7,244.4 1126.8,244.4 1126.9,245.3 1127.1,247.7 1127.2,249.1 1127.3,249.1 1127.4,248.8 1127.4,250.1 1127.5,251.4 1127.5,252.2 1127.6,254.5 1127.6,253.9 1127.7,254.9 1127.7,256.3 1127.8,258.4 1127.8,257.6 1127.9,259.4 1127.9,258.8 1128.0,260.7 1128.0,262.9 1128.1,261.9 1128.1,263.2 1128.2,264.9 1128.2,265.6 1128.3,266.3 1128.5,265.5 1128.7,264.7 1129.0,263.9 1129.2,262.0 1129.4,261.1 1129.6,260.3 1129.8,259.6 1130.1,258.8 1130.3,258.6 1130.5,256.7 1130.6,255.5 1130.7,254.7 1130.8,254.8 1131.0,254.2 1131.1,251.4 1131.2,251.8 1131.3,249.6 1131.4,250.0 1131.5,247.2 1131.6,247.5 1131.8,246.7 1131.9,246.2 1132.0,245.8 1132.1,243.8 1132.3,243.6 1132.5,242.1 1132.6,240.9 1132.8,238.7 1133.0,239.2 1133.2,238.2 1133.3,237.7 1133.5,235.3 1133.7,235.2 1134.2,234.6 1134.8,232.3 1135.3,233.2 1135.9,232.6 1136.4,230.9 1136.7,229.8 1136.9,229.6 1137.2,228.6 1137.5,226.8 1137.7,225.3 1138.0,225.5 1138.4,225.4 1138.8,223.5 1139.2,222.2 1139.6,222.1 1140.0,222.3 1140.4,221.8 1140.8,220.0 1141.2,219.0 1141.8,219.5 1142.5,216.7 1143.1,216.8 1143.7,214.9 1144.4,214.7 1145.0,214.7 1146.0,214.1 1146.2,216.1 1146.3,214.9 1146.5,217.5 1146.7,218.1 1146.9,220.3 1147.0,221.3 1147.2,221.0 1147.5,219.2 1147.8,218.7 1148.0,219.7 1148.3,217.1 1148.6,215.9 1148.9,216.9 1149.2,215.3 1149.5,213.6 1149.8,213.4 1150.0,212.2 1150.3,211.4 1150.6,210.7 1151.0,211.7 1151.4,211.5 1151.9,213.6 1152.3,214.1 1152.6,214.4 1152.9,212.5 1153.2,212.1 1153.5,209.8 1153.8,208.6 1154.2,207.3 1154.5,208.9 1154.8,205.7 1155.1,205.4 1155.4,205.2 1155.7,203.9 1156.3,203.9 1157.0,202.9 1157.6,201.8 1158.2,202.2 1158.9,200.6 1159.5,200.9 1160.2,198.3 1160.8,198.8 1161.0,200.3 1161.2,199.5 1161.4,201.2 1161.7,202.2 1161.9,202.4 1162.1,204.0 1162.3,205.9 1162.5,204.7 1162.7,206.0 1162.9,208.9 1163.1,208.4 1163.3,209.2 1163.6,211.4 1163.8,211.9 1164.0,211.3 1164.2,213.0 1164.9,212.4 1165.7,210.5 1166.4,211.2 1167.1,209.6 1167.3,210.7 1167.5,212.3 1167.7,211.3 1167.9,214.5 1168.1,213.6 1168.2,216.2 1168.4,216.1 1168.6,218.2 1168.8,217.1 1169.0,217.9 1169.2,220.0 1169.4,221.0 1169.5,221.2 1169.5,219.1 1169.6,218.3 1169.7,216.5 1169.8,216.5 1169.8,215.3 1169.9,215.6 1170.0,214.3 1170.1,212.7 1170.1,211.0 1170.2,210.0 1170.3,211.3 1170.4,209.4 1170.4,207.5 1170.5,207.3 1170.9,207.2 1171.3,204.8 1171.6,204.5 1172.0,204.7 1172.4,201.8 1172.8,200.9 1173.1,199.9 1173.5,199.3 1173.9,199.3 1174.4,198.2 1174.8,197.3 1175.3,196.4 1175.7,194.9 1176.2,195.4 1176.9,194.6 1177.6,193.7 1178.2,193.6 1178.9,191.7 1179.6,191.4 1180.4,191.0 1181.3,189.8 1182.2,190.3 1183.0,189.1 1183.6,189.1 1184.2,190.8 1184.7,191.5 1185.3,192.5 1185.3,193.4 1185.3,194.5 1185.4,195.5 1185.4,195.9 1185.4,198.2 1185.4,199.4 1185.5,199.4 1185.5,200.5 1185.5,201.7 1185.5,201.6 1185.6,203.3 1185.6,203.9 1185.6,205.0 1185.8,206.0 1186.0,206.7 1186.1,208.1 1186.3,208.3 1186.5,210.0 1188.2,210.5 1188.3,208.9 1188.3,207.8 1188.4,207.9 1188.5,206.0 1188.6,206.5 1188.6,205.8 1188.7,204.5 1188.8,202.4 1188.9,203.1 1188.9,200.5 1189.0,200.0 1189.8,200.1 1190.6,201.0 1190.8,202.2 1191.1,203.4 1191.3,203.8 1191.6,205.7 1191.8,206.0 1191.9,207.9 1192.0,208.0" fill="none" stroke="#044769" stroke-width="4.0" stroke-linejoin="round" stroke-linecap="round"/>
<polyline points="93.6,365.6 94.0,367.6 94.4,368.4 94.8,366.9 95.3,367.9 95.7,370.6 96.1,370.6 96.4,372.2 96.6,373.1 96.9,373.2 97.1,375.0 97.4,375.7 97.5,376.9 97.6,377.7 97.6,377.6 97.7,379.2 97.8,380.0 97.8,381.8 97.9,383.4 98.0,384.2 98.1,384.1 98.2,384.7 98.2,385.2 98.3,385.5 98.4,386.4 98.4,388.5 98.5,389.0 98.6,390.4 98.8,389.2 98.9,389.6 99.1,387.8 99.2,387.0 99.4,385.3 99.5,383.8 99.7,383.7 99.8,382.4 100.0,382.4 100.2,382.8 100.3,381.1 100.5,378.9 100.6,379.9 100.8,378.7 100.9,377.7 101.1,376.2 101.3,378.2 101.5,378.7 101.7,379.7 101.9,379.5 102.1,382.1 102.3,383.0 102.5,381.8 102.7,384.3 102.9,385.1 103.1,385.4 103.3,386.5 103.5,387.3 103.7,388.3 104.0,388.5 104.3,386.5 104.6,386.4 104.9,384.3 105.2,384.8 105.5,383.9 105.8,381.9 106.1,381.2 106.4,381.2 106.7,379.8 107.0,378.3 107.3,376.7 107.6,376.1 107.9,376.1 108.2,374.7 108.5,374.7 108.8,377.5 109.1,376.7 109.3,379.3 109.6,378.6 109.9,381.1 110.2,380.8 110.6,382.2 110.9,382.5 111.3,383.4 111.6,384.6 112.0,385.3 112.4,385.4 112.7,386.0 113.1,387.6 113.4,389.6 113.8,389.3 114.4,388.9 115.0,386.7 115.7,387.9 116.3,386.3 116.4,386.0 116.5,385.5 116.6,382.7 116.7,383.3 116.8,380.6 116.8,381.2 116.9,379.3 117.0,378.2 117.1,379.0 117.2,376.1 117.3,376.2 118.3,375.9 119.3,376.4 120.4,374.4 121.4,374.7 122.1,373.3 122.7,374.4 123.4,372.7 124.2,371.9 124.9,372.0 125.7,369.6 126.5,369.8 127.2,368.7 128.0,369.3 128.7,367.2 129.5,367.6 130.1,369.6 130.7,368.0 131.3,370.7 131.9,369.6 132.5,371.7 133.0,372.0 133.5,374.3 134.0,373.6 134.5,374.5 135.0,376.8 135.5,377.2 135.9,377.8 136.4,377.8 136.8,381.1 137.3,379.8 137.8,380.4 138.2,382.1 138.7,383.7 139.1,384.3 140.0,385.2 140.4,386.7 140.9,386.0 141.3,387.4 141.8,387.5 142.2,389.5 142.6,391.2 143.1,392.0 143.5,393.3 144.0,393.8 144.4,394.0 145.3,395.2 146.2,395.1 147.0,394.7 147.9,394.3 148.8,395.3 149.4,396.6 150.1,396.5 150.7,396.8 151.3,398.5 152.0,400.4 152.6,400.3 153.2,400.1 153.9,402.0 154.5,402.3 155.1,403.3 155.8,403.1 156.4,404.8 156.7,406.9 157.1,405.9 157.4,407.7 157.7,408.1 158.0,408.0 158.4,410.2 158.7,410.0 159.0,410.7 159.3,411.5 159.7,412.7 160.0,414.5 160.8,414.0 161.5,416.0 162.2,416.2 163.0,416.8 163.1,419.0 163.2,419.8 163.2,420.9 163.3,419.8 163.4,421.3 163.5,421.7 163.6,423.5 163.7,424.5 163.7,425.9 163.8,426.6 163.9,426.3 164.0,427.7 164.1,428.8 164.2,428.4 164.2,429.4 164.3,431.3 164.4,431.5 164.5,434.0 164.6,433.6 164.6,434.2 164.7,435.3 164.8,436.4 164.9,437.3 165.0,439.0 165.1,439.7 165.1,440.3 165.2,442.0 165.3,442.6 165.9,442.8 166.4,445.6 167.0,446.7 167.6,446.4 167.9,447.9 168.2,448.0 168.5,449.2 168.8,450.3 169.1,449.8 169.4,451.6 169.7,452.8 170.0,452.9 170.3,453.5 170.6,455.5 170.7,455.4 170.8,453.3 170.9,452.8 171.1,453.0 171.2,451.2 171.3,449.5 171.4,450.4 171.5,447.9 171.6,446.1 171.8,446.9 171.9,444.5 172.0,444.1 172.1,444.6 172.2,443.2 172.3,440.6 172.4,440.8 172.6,439.8 172.7,439.1 172.8,437.5 172.9,437.3 173.2,438.4 173.5,438.0 173.8,439.5 174.1,440.6 174.4,443.0 174.7,441.7 175.0,444.3 175.3,443.8 175.6,445.7 175.9,446.4 176.0,447.1 176.2,448.2 176.3,449.9 176.4,449.9 176.5,450.2 176.7,451.1 176.8,452.0 176.9,454.9 177.0,455.3 177.2,457.1 177.3,457.4 177.4,457.8 177.7,455.7 178.1,456.5 178.4,455.9 178.7,454.9 179.0,453.4 179.4,452.2 179.7,451.7 180.5,452.4 181.2,454.0 182.0,454.0 182.2,452.4 182.4,452.2 182.6,451.1 182.8,451.4 183.0,450.0 183.2,449.4 183.3,448.2 183.5,445.9 183.7,444.8 183.9,444.5 184.1,442.9 184.3,442.6 185.2,442.0 186.1,442.1 187.0,442.3 187.9,441.0 188.8,440.3 189.1,442.0 189.4,441.0 189.7,442.5 190.0,445.0 190.2,443.7 190.5,445.2 190.8,445.2 191.1,446.1 191.4,449.0 191.7,450.1 192.0,450.1 192.2,449.6 192.5,450.9 192.8,451.6 193.1,453.6 193.4,454.0 194.0,453.8 194.7,452.5 195.3,452.1 196.0,450.4 196.6,450.8 197.3,451.2 197.9,449.4 198.3,450.9 198.7,450.0 199.1,451.9 199.4,453.3 199.8,452.9 200.2,455.4 200.6,455.1 201.0,456.5 201.3,456.6 201.7,458.9 202.1,459.2 202.5,459.3 203.0,460.4 203.5,460.1 204.0,461.8 204.5,461.6 205.0,464.0 205.5,464.6 205.8,464.7 206.0,462.0 206.3,462.0 206.6,461.1 206.9,460.0 207.1,460.0 207.4,459.7 207.7,458.2 207.9,456.7 208.2,457.2 208.5,454.7 208.8,454.9 209.0,453.8 209.3,452.5 210.1,452.6 210.8,452.2 211.6,449.9 212.3,450.3 213.1,449.4 213.9,448.5 214.6,448.5 215.4,448.7 216.1,447.2 216.9,444.9 217.6,445.5 218.4,444.9 218.7,444.5 219.1,444.0 219.4,442.4 219.7,441.8 220.0,438.8 220.4,440.2 220.7,438.1 221.6,438.1 222.6,437.2 223.5,437.4 224.4,435.8 224.7,435.9 225.1,433.0 225.4,434.0 225.7,433.0 226.0,430.7 226.4,431.2 226.7,429.7 227.5,430.7 228.3,430.4 229.2,432.7 230.0,432.7 230.6,432.5 231.1,434.5 231.6,434.8 232.2,435.7 233.2,434.7 234.1,435.1 235.1,434.4 236.1,434.1 236.6,434.4 237.2,437.4 237.7,437.3 238.0,435.3 238.2,434.3 238.5,434.7 238.8,434.7 239.0,433.4 239.3,432.8 239.6,431.2 239.8,430.8 240.1,429.1 240.4,428.0 240.6,427.8 240.9,426.9 241.5,425.0 242.1,424.4 242.7,425.5 243.3,423.3 243.9,424.1 244.5,423.5 245.1,421.8 245.7,421.4 246.1,422.8 246.5,424.1 246.9,425.3 247.3,425.3 248.0,423.7 248.7,423.1 249.4,423.0 250.0,422.5 250.7,421.4 251.4,420.0 252.1,420.6 252.5,419.9 253.0,420.2 253.4,417.9 253.8,417.5 254.3,416.3 254.7,415.7 255.1,416.0 255.6,413.7 256.0,413.4 256.5,414.6 256.9,415.0 257.4,415.9 257.8,417.7 258.3,416.3 258.7,419.0 259.2,419.0 259.5,417.6 259.8,417.6 260.2,417.1 260.5,415.9 260.8,414.3 261.1,414.6 261.4,411.8 261.8,412.3 262.1,410.8 262.4,410.2 262.8,411.2 263.3,412.9 263.7,413.6 264.2,414.1 264.6,414.1 265.1,414.8 265.5,416.3 266.0,416.6 266.4,418.2 266.8,416.8 267.3,417.8 267.7,414.8 268.2,415.8 268.6,413.9 269.1,413.0 269.5,412.1 270.0,410.7 270.4,411.0 271.4,411.3 272.4,410.9 273.3,412.0 274.3,412.6 275.1,412.5 275.9,414.6 276.7,415.1 277.5,414.4 278.3,415.0 278.8,414.6 279.4,414.7 279.9,412.4 280.4,411.1 281.0,410.7 281.5,409.8 282.0,410.4 282.6,408.9 283.1,408.1 283.6,408.5 284.2,406.3 284.7,406.3 285.0,408.0 285.4,408.4 285.7,408.7 286.0,410.6 286.3,410.3 286.6,412.5 287.0,413.5 287.3,413.3 287.7,414.2 288.1,415.5 288.4,417.0 288.8,417.4 289.2,418.3 289.6,419.4 290.0,420.5 290.3,420.8 290.7,422.3 291.1,421.9 291.9,420.7 292.7,421.0 293.5,420.4 294.3,419.0 295.1,418.5 295.9,418.1 296.4,416.5 296.9,417.8 297.5,415.5 298.0,415.1 298.5,415.4 299.0,412.8 299.6,414.1 300.1,411.2 300.6,411.4 301.4,409.6 302.1,409.9 302.9,409.4 303.6,410.2 304.4,409.6 305.2,408.7 305.9,407.3 306.7,407.0 307.4,405.7 308.2,405.8 309.0,407.4 309.7,407.0 310.5,407.5 311.2,409.1 312.0,409.5 312.2,409.5 312.5,410.8 312.7,413.2 312.9,411.9 313.2,412.9 313.4,414.0 313.6,415.0 313.9,416.3 314.1,416.7 314.3,417.8 314.6,418.5 314.8,420.0 315.2,420.2 315.5,422.0 315.9,422.2 316.2,423.1 316.6,425.0 317.0,424.1 317.3,425.1 317.7,427.8 318.0,427.6 318.4,429.4 318.7,428.6 319.1,430.4 319.6,429.6 320.2,429.6 320.7,427.5 321.2,427.8 321.7,426.6 322.2,425.2 322.8,425.9 323.3,423.8 323.8,422.7 324.3,422.1 324.8,421.7 325.2,420.1 325.7,420.7 326.2,419.0 326.6,420.2 326.9,421.1 327.2,422.0 327.6,424.1 327.9,425.0 328.3,425.6 328.6,425.5 329.0,426.6 329.5,425.5 330.0,425.0 330.4,422.9 330.9,422.2 331.4,423.6 331.9,420.5 332.4,421.8 332.8,420.3 333.3,420.0 333.8,418.1 334.3,416.2 334.9,416.0 335.4,416.4 336.0,413.6 336.5,413.0 337.1,412.8 337.6,412.4 338.1,412.3 338.5,413.1 339.0,415.2 339.5,414.5 339.9,417.6 340.4,417.5 340.9,416.8 341.3,419.8 341.8,418.9 342.3,420.3 342.7,421.3 343.2,421.9 343.6,420.1 344.0,420.2 344.5,418.2 344.9,417.7 345.3,418.8 345.7,417.7 346.2,416.0 346.6,415.6 347.0,414.3 347.6,414.5 348.2,411.9 348.8,412.1 349.5,410.4 350.1,409.6 350.7,408.8 351.3,408.4 351.9,407.2 352.5,406.9 353.1,406.6 353.8,406.4 354.4,406.3 355.0,405.7 355.6,403.9 356.4,403.9 357.2,402.8 358.0,403.4 358.9,400.9 359.7,400.2 360.5,401.5 361.3,400.1 361.8,401.2 362.3,400.9 362.8,402.2 363.3,402.8 363.8,403.9 364.3,404.7 364.9,405.4 365.4,407.3 365.9,408.1 366.4,408.3 366.9,408.8 367.4,409.1 367.9,410.5 368.3,410.2 368.7,409.9 369.0,407.0 369.4,407.3 369.8,405.8 370.6,405.9 371.4,405.3 372.3,403.3 373.1,404.2 373.9,402.8 374.8,402.4 375.6,402.9 376.4,402.3 377.2,402.1 378.0,401.6 378.8,401.3 379.6,400.7 380.5,399.5 381.3,397.9 382.1,399.2 382.9,398.0 383.8,398.5 384.7,398.2 385.6,397.3 386.6,395.5 387.5,395.6 388.4,395.1 389.3,395.8 390.2,396.4 391.2,396.5 392.2,395.8 393.1,396.9 393.3,399.0 393.6,400.1 393.8,400.8 394.0,400.6 394.3,401.1 394.5,401.9 394.7,404.4 395.0,405.1 395.2,405.5 395.6,404.1 396.0,404.9 396.5,403.2 396.9,401.9 397.3,401.1 397.7,401.1 398.2,399.6 398.6,399.2 399.0,398.0 399.6,396.4 400.3,397.2 400.9,395.4 401.6,396.4 402.2,394.7 402.9,393.2 403.6,392.8 404.4,392.6 405.1,391.6 405.8,391.2 406.5,390.4 407.0,392.3 407.4,391.2 407.9,393.4 408.4,394.0 408.8,395.0 409.3,394.9 409.8,395.7 410.2,396.2 410.7,397.3 411.1,397.5 411.6,398.1 412.1,399.6 412.5,399.6 413.0,401.2 413.4,400.3 413.8,399.7 414.3,398.1 414.7,396.9 415.1,396.9 415.6,398.0 416.2,399.4 416.7,398.6 417.2,400.4 417.8,401.3 418.3,402.7 418.9,403.0 419.4,403.3 420.0,402.0 420.6,401.0 421.2,401.9 421.9,399.7 422.5,398.2 423.1,399.7 423.7,398.0 424.6,397.6 425.4,398.4 426.3,398.8 427.1,399.0 428.0,400.1 428.7,400.0 429.5,398.3 430.2,398.0 430.3,398.8 430.4,399.6 430.5,401.6 430.7,400.4 430.8,402.8 430.9,402.6 431.0,403.5 431.1,405.6 431.2,406.0 431.3,406.1 431.5,408.4 431.6,410.1 431.7,410.4 431.8,410.9 432.0,411.8 432.2,413.6 432.4,414.8 432.6,413.7 432.8,415.1 433.0,417.7 433.2,418.6 433.4,418.4 434.1,417.0 434.7,417.6 435.4,417.3 436.0,415.9 436.7,415.6 437.4,414.4 438.0,413.0 438.7,413.0 439.1,413.1 439.6,413.6 440.0,416.0 440.4,415.5 440.9,417.6 441.3,417.9 441.7,418.9 442.1,421.1 442.6,420.5 443.0,421.6 443.4,422.4 443.8,423.1 444.2,423.5 444.6,424.4 445.0,426.1 445.3,427.7 445.7,426.7 446.1,429.8 446.5,430.0 446.9,429.3 447.3,431.3 447.6,431.0 447.9,429.3 448.2,428.8 448.5,426.9 448.8,427.1 449.1,426.3 449.5,426.1 449.8,424.7 450.1,424.2 450.4,423.4 450.7,421.2 451.0,419.9 451.3,420.2 451.6,419.4 451.8,417.5 452.1,416.6 452.3,416.1 452.6,415.7 452.8,415.0 453.1,414.1 453.3,413.9 453.6,410.8 453.8,410.9 454.1,411.9 454.4,411.5 454.8,413.9 455.1,414.1 455.4,414.2 455.7,415.5 456.0,417.3 456.4,417.6 456.7,419.7 457.0,419.4 457.3,419.9 457.6,420.7 458.0,423.1 458.3,423.1 458.6,422.7 458.9,425.3 459.2,425.1 459.6,427.4 459.9,427.5 460.2,428.0 460.5,427.9 460.8,427.3 461.1,425.4 461.4,425.7 461.7,422.4 461.9,422.3 462.2,422.8 462.5,419.7 462.8,420.6 463.1,420.6 463.4,418.4 463.8,419.8 464.3,421.0 464.7,419.8 465.1,421.8 465.6,422.8 466.0,423.2 466.4,423.9 466.9,425.7 467.3,425.8 467.9,424.3 468.6,423.3 469.2,424.1 469.9,424.4 470.5,423.4 471.2,422.3 471.8,421.2 472.4,420.0 472.9,420.8 473.5,417.9 474.1,417.7 474.7,418.4 475.2,418.0 475.8,416.0 476.4,415.5 477.1,415.9 477.8,413.1 478.5,413.6 479.2,411.5 480.0,411.2 480.7,410.4 481.4,409.2 482.1,409.8 483.1,409.8 484.0,410.2 485.0,409.8 485.9,411.0 486.9,409.6 487.8,411.0 488.4,410.3 488.9,409.6 489.4,408.6 490.0,408.1 490.9,409.5 491.8,407.8 492.8,408.9 493.7,409.4 494.6,409.8 495.1,410.3 495.6,412.7 496.1,412.4 496.5,413.1 497.0,413.7 497.5,414.5 498.0,415.5 498.9,416.5 499.8,415.8 500.7,415.2 501.6,413.7 502.5,414.4 502.9,415.5 503.3,415.1 503.6,416.6 504.0,416.6 504.4,419.2 504.8,420.7 505.2,420.7 505.6,421.4 506.0,421.4 506.3,422.8 506.7,423.7 507.1,424.6 507.7,425.2 508.2,425.5 508.8,426.2 509.4,428.3 509.9,429.6 510.5,429.2 511.0,429.3 511.5,428.0 512.0,425.7 512.5,425.7 513.1,426.3 513.6,425.9 514.1,424.0 514.6,423.3 515.1,422.4 516.0,422.6 516.9,421.3 517.8,422.2 518.7,421.1 519.6,421.2 520.3,422.8 521.0,422.5 521.6,423.7 522.3,424.1 523.0,424.6 523.5,423.9 523.9,422.9 524.4,423.4 524.8,422.1 525.3,420.4 525.8,419.9 526.2,420.1 526.7,418.9 527.1,417.9 527.6,416.7 528.5,418.1 529.5,416.1 530.5,417.5 531.4,417.8 532.3,417.5 533.3,417.8 533.7,418.2 534.1,417.3 534.6,415.0 535.0,414.7 535.4,414.2 535.9,413.2 536.3,411.5 536.7,411.0 537.7,412.2 538.6,411.4 539.5,411.2 540.5,413.0 541.5,413.3 542.4,413.3 543.3,412.8 544.2,412.8 545.1,413.8 546.0,413.1 546.9,412.1 547.6,412.6 548.3,414.6 549.0,414.4 549.8,414.7 550.5,416.0 551.2,417.1 551.9,418.1 552.6,417.8 553.1,417.5 553.6,416.7 554.1,415.3 554.6,413.6 555.1,413.9 555.6,412.3 556.1,413.7 556.6,411.4 557.1,411.0 557.9,410.7 558.7,410.5 559.5,408.5 560.3,409.6 561.0,407.7 561.8,406.5 562.6,407.3 563.4,406.2 564.2,407.0 565.0,405.3 566.1,404.7 567.0,404.1 567.8,402.8 568.7,402.2 569.5,401.8 570.4,402.5 571.2,402.7 572.1,401.7 572.9,400.9 573.8,401.9 574.6,402.6 575.5,404.1 576.3,404.6 577.2,404.7 578.0,404.4 578.9,404.6 579.7,404.7 580.7,403.4 581.6,403.8 582.5,402.1 583.5,402.4 584.3,402.3 585.2,404.0 586.0,403.7 586.9,404.5 587.7,404.2 588.5,404.1 589.4,405.1 590.2,405.6 591.1,405.1 591.9,406.2 592.5,406.3 593.1,405.9 593.8,403.1 594.4,402.5 595.0,403.2 595.6,402.2 596.2,400.2 596.8,400.4 597.5,398.7 598.1,399.6 598.7,397.9 599.4,398.8 600.0,399.3 600.7,399.0 601.4,400.3 602.0,401.1 602.7,401.5 603.3,401.7 604.0,403.2 604.4,403.2 604.9,405.4 605.3,406.8 605.8,407.4 606.2,407.6 606.6,408.9 607.1,408.0 607.5,409.0 608.0,411.1 608.4,410.1 608.9,411.1 609.3,413.0 609.8,413.0 610.3,410.7 610.9,409.9 611.4,409.7 611.9,410.1 612.4,407.2 613.0,408.7 613.5,406.5 614.0,406.4 614.5,405.4 615.1,403.7 615.6,405.1 616.1,403.2 617.1,402.1 618.1,403.5 619.2,403.4 620.2,402.1 621.2,403.1 622.2,401.7 622.9,401.3 623.5,402.3 624.2,403.9 624.8,403.6 625.5,406.3 626.1,406.3 626.8,407.0 627.2,407.0 627.6,404.8 628.0,403.3 628.4,404.8 628.8,402.2 629.2,401.9 629.7,400.3 630.1,400.7 630.5,399.6 630.9,398.1 631.3,396.8 631.7,396.8 632.1,396.4 633.0,397.6 633.9,396.5 634.8,397.2 635.6,398.7 636.5,399.3 637.4,399.4 637.9,399.3 638.4,398.1 638.9,397.8 639.4,395.1 639.9,396.3 640.4,393.1 640.9,392.5 641.4,391.6 641.9,391.8 642.8,392.8 643.6,392.5 644.5,393.9 645.4,394.3 646.3,394.6 647.1,394.1 648.0,394.1 648.9,394.3 649.7,396.4 650.6,396.3 651.5,395.5 652.4,397.0 653.2,396.1 654.1,397.9 654.7,395.9 655.3,396.7 656.0,396.2 656.6,395.8 657.2,394.7 657.8,393.3 658.8,392.5 659.7,394.3 660.6,395.1 661.6,394.4 662.5,394.1 663.5,394.3 664.0,394.6 664.5,394.8 664.9,397.1 665.4,398.8 665.9,397.4 666.3,400.1 666.8,401.1 667.3,400.9 667.8,399.7 668.3,400.1 668.7,397.5 669.2,397.0 669.7,396.8 670.2,396.8 670.7,395.0 671.1,393.0 671.6,394.4 672.1,392.4 672.9,393.1 673.8,394.1 674.6,393.1 675.4,393.9 676.2,393.7 677.1,394.4 677.9,395.6 678.7,396.2 679.4,395.3 680.1,395.2 680.8,395.0 681.4,393.0 682.1,393.9 682.8,392.5 683.5,391.4 684.4,391.0 685.4,390.7 686.3,392.7 687.2,392.0 688.1,390.4 689.1,392.1 690.0,391.7 690.9,391.1 691.9,390.9 692.8,391.5 693.7,389.8 694.7,389.7 695.6,390.0 696.5,389.6 697.4,390.1 698.4,387.5 699.3,389.0 700.2,388.2 701.1,387.2 702.1,386.1 703.1,387.2 704.1,386.9 705.1,386.9 706.1,386.1 707.1,386.4 708.2,386.0 709.2,386.7 710.2,386.2 711.3,386.9 712.3,387.2 712.7,387.8 713.2,387.8 713.6,388.9 714.0,390.0 714.4,390.9 714.9,392.2 715.3,392.8 716.0,392.8 716.8,390.9 717.5,391.1 718.2,389.9 719.0,389.0 719.7,388.1 720.5,389.6 721.2,387.8 722.0,389.5 722.8,389.8 723.6,388.6 724.3,389.1 725.1,389.6 725.9,390.6 726.7,391.7 727.1,392.3 727.6,392.1 728.0,394.0 728.4,395.5 728.8,396.8 729.2,395.9 729.7,396.3 730.1,398.4 730.6,400.0 731.2,399.8 731.8,400.4 732.3,400.8 732.9,402.0 733.4,403.4 733.9,402.0 734.4,401.2 734.9,400.4 735.3,400.4 735.8,400.4 736.3,398.3 736.8,397.8 737.3,397.3 738.3,396.9 739.2,397.5 740.2,397.0 741.1,397.2 742.1,394.8 743.0,396.1 744.0,395.0 744.7,395.3 745.4,396.9 746.1,397.6 746.8,398.4 747.0,399.6 747.3,399.9 747.5,400.2 747.8,400.9 748.0,404.3 748.3,405.1 748.5,405.1 749.0,404.2 749.6,402.4 750.1,403.5 750.7,401.8 751.2,400.9 751.8,400.1 752.3,401.4 752.7,401.0 753.2,402.1 753.7,404.6 754.1,405.3 754.6,405.6 755.1,406.1 755.7,404.0 756.2,404.7 756.8,403.7 757.3,402.0 757.8,402.3 758.4,399.7 758.9,398.7 759.5,399.9 760.0,398.4 760.9,397.1 761.8,397.8 762.7,398.0 763.6,397.6 764.6,396.1 765.5,397.2 766.4,395.0 767.3,396.0 768.2,395.5 768.7,397.4 769.2,397.3 769.8,397.5 770.3,400.2 770.8,400.3 771.3,400.6 771.9,400.6 772.4,400.2 773.0,399.5 773.6,397.9 774.2,397.8 774.7,396.2 775.3,395.5 776.0,394.3 776.8,393.8 777.5,393.2 778.2,392.0 779.0,393.0 779.7,391.9 780.5,392.7 781.2,389.9 781.9,391.2 782.7,389.2 783.4,389.4 784.2,389.3 785.1,389.6 786.0,391.6 786.8,391.2 787.6,391.1 788.5,391.5 789.2,391.4 789.9,391.8 790.6,393.3 791.4,395.6 792.1,394.9 792.8,396.2 793.5,396.5 794.4,397.2 795.2,394.7 796.0,395.0 796.9,395.0 797.8,394.1 798.6,394.5 798.9,395.1 799.2,396.8 799.4,396.3 799.7,398.7 800.0,399.1 800.5,399.5 801.0,401.4 801.4,401.1 801.9,402.9 802.2,402.8 802.4,400.9 802.7,401.1 803.0,400.5 803.3,398.6 803.5,396.3 803.8,396.6 804.3,397.0 804.8,399.4 805.4,399.3 805.9,400.3 806.4,400.4 807.4,399.9 808.5,400.7 809.5,399.1 810.1,400.9 810.8,400.9 811.4,401.6 812.1,401.1 812.7,402.9 812.8,402.6 812.8,404.1 812.9,406.4 813.0,407.6 813.0,408.4 813.1,409.7 813.2,408.4 813.3,409.4 813.3,410.9 813.4,412.5 814.4,411.4 815.5,413.1 816.5,413.1 817.1,413.5 817.8,412.6 818.4,409.8 819.1,410.5 819.7,409.3 820.1,410.7 820.4,411.6 820.8,411.8 821.1,412.3 821.5,414.9 821.8,415.9 822.2,416.3 822.5,416.8 822.9,417.6 823.1,415.5 823.4,415.2 823.6,414.1 823.8,413.2 824.1,412.2 824.3,412.5 824.6,411.6 824.8,409.3 825.0,410.3 825.3,407.0 825.5,407.4 826.4,408.1 827.3,406.6 828.1,406.2 829.0,404.8 829.9,404.8 830.5,406.0 831.0,407.2 831.6,406.2 832.2,406.7 832.7,409.1 833.3,408.4 833.9,408.8 834.4,410.5 835.0,411.2 835.6,409.6 836.3,408.9 836.9,408.4 837.6,407.1 838.2,407.4 838.6,409.1 839.0,409.3 839.5,410.3 839.9,410.2 840.3,412.3 840.7,413.7 841.2,414.6 841.6,413.0 842.0,415.0 842.6,413.8 843.3,412.5 843.9,412.7 844.5,412.5 845.2,411.6 845.8,410.6 846.3,411.0 846.8,413.3 847.4,413.2 847.9,414.9 848.4,414.4 848.6,415.1 848.9,416.5 849.1,416.0 849.3,418.0 849.6,419.2 849.8,419.0 850.1,420.8 850.3,421.4 850.7,421.3 851.2,423.1 851.6,424.3 852.1,424.9 852.5,425.8 852.8,424.0 853.1,423.2 853.5,422.8 853.8,422.7 854.1,421.3 854.5,419.8 854.8,419.3 855.1,418.8 855.4,419.2 855.7,419.6 856.0,421.6 856.3,422.1 856.7,422.6 857.0,422.6 857.3,425.9 857.6,424.5 857.9,426.5 858.4,424.7 858.8,424.3 859.3,424.8 859.7,424.3 860.2,423.0 860.6,420.8 861.1,420.7 861.6,420.7 862.1,417.7 862.7,417.1 863.2,416.2 863.7,416.3 864.3,415.7 864.9,415.0 865.6,414.3 866.2,414.4 866.8,412.5 867.5,413.8 868.3,414.4 869.0,413.5 869.8,416.1 870.5,416.8 871.3,416.3 871.7,416.3 872.1,413.5 872.4,414.4 872.8,413.0 873.2,412.2 873.6,410.7 874.0,411.2 874.3,410.5 874.7,409.5 875.1,408.0 875.6,408.3 876.0,410.2 876.5,409.3 877.0,411.7 877.5,410.8 878.0,411.5 878.4,412.6 878.9,414.4 879.9,414.9 880.8,415.8 881.8,414.6 882.7,415.1 883.7,414.8 884.5,414.4 885.2,414.5 886.0,414.2 886.8,413.2 887.6,411.3 888.3,410.0 889.1,410.5 889.4,412.4 889.7,411.6 890.1,413.8 890.4,414.9 890.7,413.9 891.0,414.9 891.3,416.3 891.7,418.3 892.0,419.2 892.3,419.1 892.9,419.6 893.5,416.9 894.1,417.1 894.7,416.9 895.3,414.9 895.8,414.6 896.4,412.9 897.0,413.8 897.6,411.9 898.2,411.2 898.8,410.5 899.7,410.5 900.6,409.3 901.5,410.2 902.4,409.0 903.3,408.5 904.1,408.9 905.0,408.4 905.9,408.2 906.8,408.2 907.7,407.7 908.6,406.3 909.5,406.2 910.5,406.7 911.4,407.4 912.4,405.4 913.4,407.1 914.4,406.8 915.3,406.6 916.3,406.0 917.3,406.5 918.2,407.8 919.2,407.3 920.0,408.7 920.8,409.4 921.7,409.2 922.5,409.9 923.3,410.2 924.1,408.9 925.0,410.7 925.8,411.6 926.6,411.7 927.4,410.9 928.3,412.4 929.1,412.0 929.9,412.7 930.7,412.0 931.6,412.3 932.4,411.7 933.3,409.8 934.1,410.7 935.0,408.7 935.8,408.6 936.7,409.7 937.5,408.4 938.5,409.2 939.5,407.1 940.5,408.1 941.5,406.3 942.5,406.8 943.5,406.4 944.5,405.6 945.6,404.4 946.6,405.1 947.6,404.9 948.7,405.2 949.7,406.0 950.7,405.1 951.5,403.4 952.3,403.2 953.2,401.8 954.0,401.7 954.8,401.8 955.6,401.7 956.4,403.6 957.3,404.4 958.1,403.1 958.9,404.3 959.4,403.4 959.9,402.6 960.4,401.6 960.9,401.9 961.4,399.8 962.6,400.8 963.8,399.4 964.6,398.6 965.5,400.0 966.3,400.7 967.1,401.4 968.0,401.5 968.8,401.8 969.3,401.8 969.8,399.1 970.2,399.2 970.7,399.4 971.2,397.7 972.0,396.3 972.9,395.8 973.7,396.4 974.5,394.7 975.3,395.2 976.2,393.6 977.0,394.0 978.0,392.8 979.0,392.8 980.1,393.5 981.1,392.4 981.9,393.1 982.7,393.5 983.6,393.9 984.4,393.7 985.2,394.4 986.2,395.8 987.2,395.0 988.1,395.3 989.1,394.0 990.1,395.3 990.5,393.8 990.8,393.9 991.2,394.0 991.5,392.5 991.9,390.0 992.2,391.1 992.6,389.5 993.6,388.5 994.7,389.1 995.7,387.8 996.7,388.3 997.3,388.0 998.0,390.7 998.6,390.7 999.2,391.6 1000.2,391.5 1001.2,391.5 1002.1,390.8 1003.1,390.0 1004.1,389.9 1004.8,388.7 1005.5,388.5 1006.2,387.0 1006.8,386.3 1007.5,387.0 1008.2,385.4 1009.0,385.6 1009.9,387.2 1010.7,387.7 1011.5,387.9 1012.2,387.0 1012.9,387.1 1013.5,385.2 1014.2,383.5 1014.9,385.0 1015.6,383.3 1016.5,383.9 1017.5,383.8 1018.5,384.2 1019.4,382.8 1020.3,382.8 1021.3,382.9 1021.9,383.9 1022.5,385.3 1023.2,384.5 1023.8,385.8 1024.3,385.6 1024.8,385.2 1025.3,382.5 1025.8,380.9 1026.3,381.3 1026.8,381.2 1027.4,383.2 1027.9,382.8 1028.5,385.5 1029.0,384.0 1029.6,385.8 1030.3,386.2 1031.0,384.1 1031.7,385.0 1032.4,382.8 1033.1,381.6 1033.8,382.4 1034.5,381.3 1034.8,379.8 1035.1,380.5 1035.5,379.2 1035.8,376.7 1036.1,376.4 1037.2,375.9 1038.3,375.5 1038.9,374.8 1039.5,374.6 1040.1,372.4 1040.6,372.4 1041.2,371.5 1041.8,370.8 1042.4,369.8 1042.9,370.8 1043.4,371.3 1043.9,372.0 1044.4,373.1 1044.5,373.8 1044.6,376.3 1044.7,376.0 1044.8,375.9 1044.9,377.6 1045.1,379.5 1045.2,380.3 1045.3,379.7 1045.4,381.5 1045.5,382.6 1045.6,384.5 1045.7,384.6 1045.9,383.1 1046.2,383.8 1046.4,382.6 1046.6,379.6 1046.8,379.9 1047.1,379.0 1047.3,378.0 1048.4,378.1 1049.5,378.5 1050.6,377.2 1050.8,377.4 1051.1,380.0 1051.3,378.9 1051.6,382.0 1051.8,382.1 1052.2,380.7 1052.6,379.2 1053.1,380.5 1053.5,380.0 1053.9,378.0 1054.5,379.1 1055.1,380.2 1055.7,379.9 1056.3,380.2 1057.0,382.1 1057.6,383.2 1058.2,382.5 1058.8,383.8 1059.5,382.9 1060.2,382.0 1060.9,381.4 1061.7,382.4 1062.4,379.6 1063.1,379.0 1063.8,379.7 1064.6,379.4 1065.4,381.4 1066.3,381.3 1067.1,382.3 1067.9,382.1 1068.7,381.8 1069.5,381.5 1070.3,379.7 1070.9,380.7 1071.5,380.1 1072.1,381.1 1072.6,382.7 1073.2,382.8 1073.8,384.1 1074.4,385.4 1075.0,384.0 1075.7,385.0 1076.3,384.1 1076.9,382.1 1077.4,383.4 1078.0,383.5 1078.5,384.3 1079.1,384.3 1079.6,386.1 1080.2,386.1 1080.7,387.9 1081.3,389.5 1081.8,389.5 1082.6,388.6 1083.4,388.8 1084.3,388.4 1085.1,387.0 1085.9,387.6 1086.7,385.9 1087.6,384.9 1088.4,386.1 1089.2,384.6 1089.8,385.4 1090.3,385.7 1090.9,387.5 1091.4,388.8 1092.0,390.0 1092.5,389.2 1093.1,389.7 1093.6,390.5 1094.2,392.0 1094.7,390.6 1095.3,389.6 1095.8,390.6 1096.3,389.0 1096.9,386.7 1097.4,387.0 1097.9,386.8 1098.3,387.8 1098.8,390.7 1099.3,389.9 1099.8,391.9 1100.2,391.3 1100.7,392.8 1101.2,391.2 1101.6,392.3 1102.1,389.2 1102.6,389.5 1103.1,388.7 1103.5,387.4 1104.0,387.0 1104.7,388.3 1105.3,389.2 1106.0,388.3 1106.6,389.1 1107.3,390.3 1107.5,391.2 1107.8,392.1 1108.0,393.5 1108.3,394.8 1108.5,394.6 1108.8,397.1 1109.0,396.9 1109.6,397.5 1110.2,397.1 1110.8,398.8 1111.3,399.8 1111.9,399.6 1112.5,402.1 1113.1,401.8 1113.5,401.1 1113.9,400.0 1114.3,398.4 1114.7,397.0 1115.1,396.5 1115.5,396.1 1116.2,397.1 1116.9,397.7 1117.6,398.3 1118.4,397.2 1119.1,399.8 1119.8,400.1 1120.5,400.2 1121.1,399.8 1121.7,398.6 1122.3,398.6 1122.9,396.9 1123.1,399.0 1123.4,399.0 1123.6,399.6 1123.9,400.8 1124.1,402.4 1124.4,403.0 1124.6,403.5 1125.3,404.9 1126.0,404.4 1126.8,405.8 1127.5,405.5 1128.2,406.9 1128.8,406.5 1129.5,404.4 1130.1,405.1 1130.8,404.9 1131.4,403.7 1131.6,403.9 1131.9,401.9 1132.1,402.0 1132.4,399.4 1132.6,399.3 1133.4,397.6 1134.2,398.5 1135.0,397.5 1135.8,397.1 1136.6,397.2 1137.4,397.1 1138.2,396.9 1139.0,395.5 1140.0,396.0 1140.9,397.4 1141.4,396.8 1142.0,396.0 1142.5,395.3 1143.0,394.2 1143.6,393.1 1144.1,392.3 1144.6,393.9 1145.1,392.6 1145.6,395.3 1146.1,394.5 1146.6,396.1 1147.0,394.4 1147.5,394.8 1147.9,393.4 1148.3,392.3 1148.8,390.8 1149.2,391.0 1149.8,390.5 1150.5,391.7 1151.1,391.9 1151.8,394.1 1152.4,394.2 1152.9,392.7 1153.4,392.4 1153.9,391.7 1154.4,391.7 1154.9,390.4 1155.8,390.7 1156.6,389.7 1157.5,388.8 1158.6,388.3 1159.7,388.3 1160.8,389.6 1161.9,389.7 1162.2,390.3 1162.4,392.1 1162.7,391.7 1162.9,393.8 1163.2,394.2 1164.0,394.4 1164.9,394.7 1165.8,395.0 1166.6,397.0 1167.5,396.9 1168.3,397.4 1168.8,396.8 1169.3,396.7 1169.8,393.9 1170.3,394.5 1170.8,393.6 1172.1,393.5 1173.4,394.2 1173.7,392.6 1174.1,393.2 1174.4,390.7 1174.7,390.4 1175.5,389.5 1176.4,389.0 1177.2,388.5 1177.8,388.4 1178.5,389.7 1179.1,391.0 1180.2,389.5 1181.2,390.6 1182.3,390.4 1183.1,391.4 1184.0,393.0 1184.8,392.3 1184.9,394.4 1185.0,393.8 1185.2,396.4 1185.3,395.1 1185.4,396.1 1185.5,398.0 1186.3,398.6 1187.1,399.4 1187.9,399.7 1188.7,399.9 1189.7,398.3 1190.8,398.8 1191.8,398.6" fill="none" stroke="#069B9C" stroke-width="4.0" stroke-linejoin="round" stroke-linecap="round"/>
<rect x="39" y="601.2" width="16.2" height="16.5" fill="#044769"/>
<rect x="38.6" y="630.6" width="16.6" height="16.6" fill="#069B9C"/>
<text x="72.0" y="616.3" class="leg" textLength="135" lengthAdjust="spacingAndGlyphs">MSCI USA Index</text>
<text x="72.0" y="645.7" class="leg" textLength="243" lengthAdjust="spacingAndGlyphs">MSCI AC World ex USA Index</text>
<text x="26.8" y="41.2" class="ttl" textLength="133.3" lengthAdjust="spacingAndGlyphs">America first</text>
<text x="38.3" y="89.2" class="idx" textLength="179.7" lengthAdjust="spacingAndGlyphs">indexed: 1/1/08 = 100</text>
</svg>
<div class="t" style="left:18.6px;top:687px;font-size:15.8px;color:#222;line-height:18px;">Appendix: Performance over the past 5 years (12-month periods)</div>
<div class="t" style="left:18.6px;top:725px;font-size:15.8px;color:#222;line-height:18px;">Past performance is not indicative of future returns.</div>
<div class="t" style="left:18.6px;top:763px;font-size:15.8px;color:#222;line-height:18px;">Sources: Bloomberg Finance L.P., DWS Investment GmbH as of 8/28/19</div>
</body></html>
